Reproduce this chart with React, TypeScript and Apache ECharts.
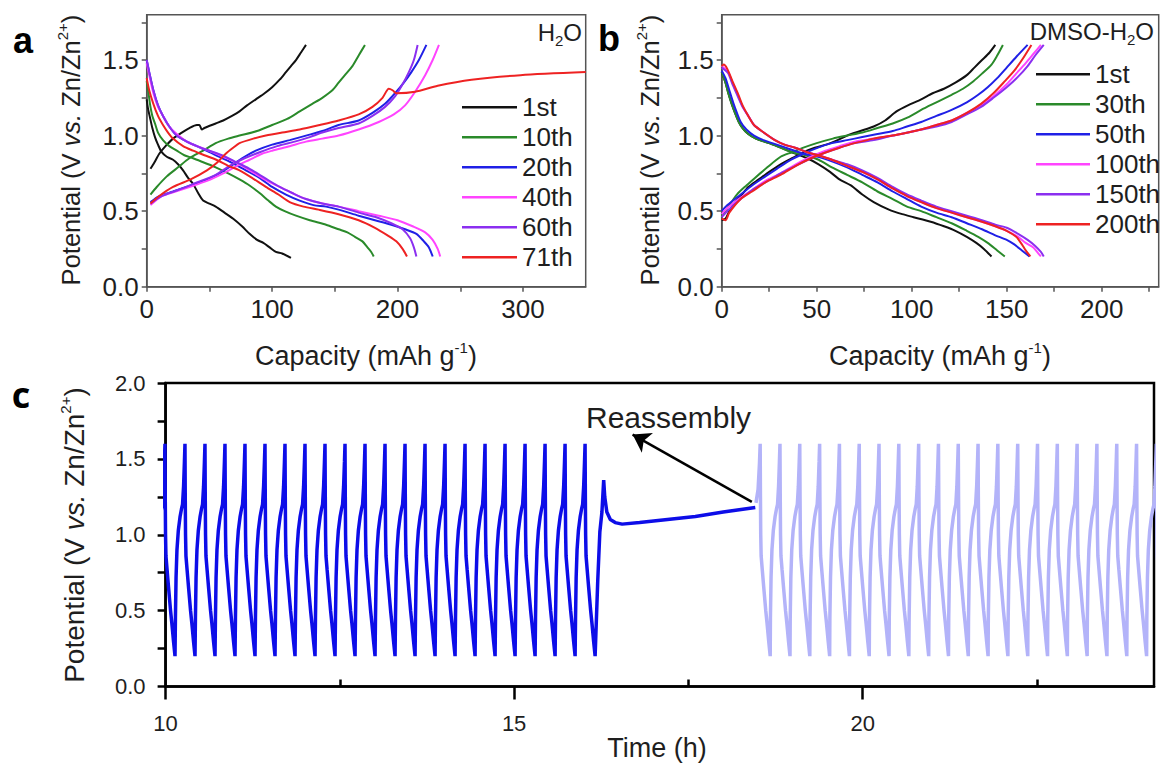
import React, { useEffect, useRef } from "react";
import * as echarts from "echarts";

const FONT = "'Liberation Sans', Arial, sans-serif";
const INK = "#1e1e1e";

// ---------- Panel a (H2O) ----------
const A_NAMES = ["1st", "10th", "20th", "40th", "60th", "71th"];
const A_COLORS = ["#111111", "#2a8a2a", "#2020e6", "#ff44ff", "#8b2ff0", "#ee2222"];
const A_CHARGE: number[][][] = [
  [[3,0.78],[6,0.82],[10,0.88],[15,0.93],[21,0.98],[28,1.02],[34,1.05],[40,1.07],[42,1.07],[44,1.04],[46,1.05],[55,1.08],[61,1.10],[68,1.13],[74,1.16],[80,1.20],[87,1.24],[94,1.28],[100,1.32],[106,1.37],[111,1.42],[115,1.46],[119,1.5],[123,1.55],[127,1.6]],
  [[3,0.61],[8,0.66],[16,0.73],[25,0.79],[34,0.85],[45,0.9],[55,0.95],[65,0.98],[74,1.0],[88,1.03],[100,1.07],[112,1.11],[122,1.16],[132,1.21],[140,1.25],[148,1.3],[153,1.35],[158,1.4],[164,1.46],[169,1.53],[174,1.6]],
  [[3,0.56],[10,0.6],[21,0.63],[35,0.67],[48,0.71],[58,0.75],[69,0.81],[78,0.86],[87,0.9],[100,0.94],[114,0.97],[127,1.0],[140,1.03],[153,1.07],[169,1.1],[180,1.15],[190,1.21],[198,1.28],[205,1.35],[211,1.42],[217,1.5],[223,1.6]],
  [[3,0.54],[12,0.6],[23,0.63],[34,0.66],[48,0.7],[61,0.75],[72,0.8],[82,0.84],[92,0.88],[100,0.9],[114,0.93],[127,0.96],[140,0.98],[153,1.0],[169,1.04],[185,1.09],[197,1.14],[206,1.2],[214,1.29],[222,1.4],[228,1.5],[233,1.6]],
  [[3,0.55],[12,0.6],[25,0.64],[40,0.69],[55,0.74],[66,0.8],[78,0.85],[90,0.89],[104,0.93],[118,0.96],[130,0.99],[140,1.02],[153,1.05],[169,1.08],[180,1.13],[190,1.19],[198,1.26],[204,1.34],[209,1.42],[213,1.5],[216,1.6]],
  [[3,0.55],[10,0.6],[21,0.66],[35,0.71],[48,0.77],[56,0.82],[63,0.88],[69,0.92],[74,0.95],[85,0.98],[95,1.0],[108,1.02],[122,1.04],[138,1.07],[153,1.1],[169,1.14],[180,1.19],[188,1.25],[193,1.31],[196,1.3],[199,1.28],[214,1.29],[232,1.33],[259,1.37],[298,1.4],[350,1.42]],
];
const A_DISCH: number[][][] = [
  [[0,1.24],[1,1.18],[2.6,1.12],[4.5,1.05],[6.6,0.99],[9,0.94],[12,0.89],[16,0.86],[21,0.84],[25,0.81],[29,0.77],[33,0.72],[37,0.68],[41,0.62],[45,0.57],[50,0.55],[55,0.53],[62,0.49],[69,0.45],[76,0.4],[82,0.35],[88,0.31],[93,0.29],[98,0.26],[103,0.23],[108,0.22],[115,0.19]],
  [[0,1.36],[1.5,1.28],[2.6,1.21],[4.5,1.13],[6.6,1.08],[9,1.02],[13,0.97],[18,0.93],[24,0.9],[30,0.87],[37,0.85],[46,0.82],[55,0.79],[65,0.75],[74,0.71],[82,0.67],[90,0.62],[97,0.57],[103,0.53],[110,0.5],[119,0.47],[130,0.44],[143,0.41],[153,0.38],[160,0.36],[166,0.33],[172,0.3],[176,0.26],[179,0.23],[181,0.2]],
  [[0,1.5],[2,1.42],[5.3,1.3],[9,1.2],[13,1.13],[18,1.06],[24,1.0],[32,0.96],[40,0.93],[50,0.89],[58,0.86],[68,0.82],[79,0.77],[90,0.72],[100,0.66],[111,0.61],[122,0.57],[133,0.54],[143,0.53],[153,0.51],[169,0.47],[182,0.44],[195,0.41],[206,0.38],[215,0.35],[221,0.3],[225,0.26],[228,0.2]],
  [[0,1.48],[2,1.4],[5.3,1.28],[9,1.19],[13,1.13],[18,1.06],[24,1.01],[32,0.96],[40,0.93],[50,0.9],[61,0.86],[72,0.82],[82,0.77],[94,0.71],[106,0.66],[116,0.62],[127,0.58],[140,0.55],[153,0.53],[169,0.5],[185,0.47],[200,0.44],[212,0.4],[222,0.36],[228,0.31],[232,0.25],[234,0.2]],
  [[0,1.5],[2,1.42],[5.3,1.3],[9,1.2],[13,1.13],[18,1.06],[24,1.0],[32,0.96],[40,0.93],[50,0.9],[60,0.87],[70,0.83],[82,0.78],[94,0.72],[106,0.66],[116,0.62],[127,0.58],[140,0.55],[153,0.53],[169,0.49],[183,0.46],[195,0.42],[204,0.38],[210,0.32],[213,0.26],[215,0.2]],
  [[0,1.38],[2,1.3],[5.3,1.21],[9,1.13],[13,1.07],[17,1.02],[21,0.98],[29,0.93],[37,0.9],[46,0.87],[55.5,0.84],[65,0.8],[74,0.77],[84,0.72],[95,0.66],[105,0.61],[114,0.56],[125,0.53],[137,0.51],[153,0.48],[169,0.44],[182,0.39],[192,0.34],[199,0.3],[204,0.25],[207.5,0.2]],
];

// ---------- Panel b (DMSO-H2O) ----------
const B_NAMES = ["1st", "30th", "50th", "100th", "150th", "200th"];
const B_COLORS = ["#111111", "#2a8a2a", "#2020e6", "#ff44ff", "#8b2ff0", "#ee2222"];
const B_CHARGE: number[][][] = [
  [[0,0.44],[2,0.45],[4,0.5],[7,0.56],[10,0.6],[14,0.66],[19.5,0.71],[25,0.76],[31,0.81],[37,0.85],[43,0.89],[49,0.92],[55,0.94],[61,0.97],[66,1.0],[73,1.03],[80,1.06],[86,1.1],[92,1.16],[98,1.2],[105,1.24],[111,1.28],[117,1.31],[123,1.35],[129,1.4],[133,1.45],[137,1.5],[141,1.55],[144,1.6]],
  [[0,0.47],[3,0.52],[8,0.61],[13,0.67],[17.5,0.72],[24,0.79],[31,0.86],[37,0.89],[43,0.92],[50,0.95],[58.5,0.98],[66,1.0],[74,1.02],[82,1.05],[90,1.08],[98,1.12],[105,1.17],[113,1.22],[121,1.27],[127,1.31],[132.5,1.36],[137,1.41],[142,1.47],[145,1.53],[148,1.6]],
  [[0,0.5],[3,0.54],[10,0.61],[16,0.67],[23,0.73],[29,0.78],[35,0.83],[43,0.88],[50.7,0.92],[58,0.95],[66,0.97],[74,0.99],[82,1.01],[90,1.03],[97.5,1.06],[105,1.09],[113,1.13],[121,1.17],[129,1.22],[135,1.27],[140,1.32],[145,1.38],[150,1.45],[155,1.52],[161,1.6]],
  [[0,0.48],[3,0.52],[10,0.59],[16,0.64],[23,0.7],[31,0.75],[39,0.81],[47,0.86],[54.6,0.9],[62,0.93],[70,0.96],[80,0.98],[90,1.0],[98,1.02],[105,1.04],[113,1.07],[121,1.1],[129,1.15],[136.5,1.2],[143,1.26],[150,1.34],[155,1.41],[160,1.48],[164,1.54],[168,1.6]],
  [[0,0.46],[3,0.5],[10,0.58],[16,0.64],[23,0.69],[31,0.75],[39,0.8],[47,0.85],[55,0.89],[62,0.92],[70,0.95],[80,0.97],[90,1.0],[98,1.02],[105,1.04],[113,1.06],[121,1.09],[129,1.14],[136.5,1.19],[143,1.25],[150,1.32],[156,1.39],[161,1.46],[165,1.53],[169.5,1.6]],
  [[0,0.45],[2,0.44],[4,0.49],[10,0.58],[16,0.63],[23,0.69],[31,0.74],[39,0.8],[47,0.85],[55,0.89],[62,0.92],[70,0.95],[80,0.98],[90,1.0],[98,1.02],[105,1.04],[113,1.07],[121,1.1],[129,1.15],[136.5,1.21],[143,1.28],[149,1.36],[154,1.43],[158,1.5],[163,1.6]],
];
const B_DISCH: number[][][] = [
  [[0,1.42],[2,1.35],[3.5,1.28],[5,1.22],[7,1.15],[9,1.09],[11,1.05],[14,1.01],[18,0.98],[25,0.95],[31,0.92],[37,0.89],[45,0.85],[51,0.81],[57,0.76],[62,0.71],[68,0.67],[74,0.61],[80,0.56],[88,0.51],[95,0.48],[101,0.46],[110,0.43],[117,0.4],[123,0.37],[129,0.33],[134,0.29],[138,0.25],[142,0.2]],
  [[0,1.42],[2,1.35],[3.5,1.28],[5,1.22],[7,1.15],[9,1.09],[11,1.05],[14,1.01],[18,0.98],[25,0.95],[31,0.92],[37,0.89],[44,0.87],[51,0.84],[58,0.79],[66,0.74],[74,0.69],[82,0.63],[90,0.58],[97.5,0.53],[105,0.5],[113,0.46],[121,0.42],[129,0.37],[135,0.33],[140,0.29],[145,0.24],[149,0.2]],
  [[0,1.43],[2,1.38],[4,1.3],[6,1.22],[8,1.15],[10,1.09],[13,1.04],[17,1.0],[22,0.97],[29,0.94],[36,0.91],[43,0.88],[50.7,0.86],[58,0.83],[66,0.79],[74,0.74],[82,0.69],[90,0.63],[97.5,0.58],[105,0.53],[113,0.49],[121,0.46],[129,0.42],[137,0.38],[144,0.34],[150,0.31],[154,0.28],[158,0.24],[162,0.2]],
  [[0,1.46],[2,1.44],[3.5,1.42],[6,1.34],[8.8,1.26],[11,1.19],[14,1.13],[17,1.07],[21,1.03],[28,0.97],[33,0.94],[38.6,0.92],[45,0.89],[50.7,0.87],[58,0.84],[66,0.8],[74,0.76],[82,0.71],[90,0.65],[97.5,0.6],[105,0.56],[113,0.52],[121,0.49],[129,0.46],[137,0.43],[144,0.4],[150,0.37],[156,0.33],[160,0.29],[164,0.26],[166,0.23],[168,0.2]],
  [[0,1.45],[2,1.43],[3.5,1.41],[6,1.33],[8.8,1.25],[11,1.19],[14,1.13],[17,1.07],[21,1.03],[28,0.97],[33,0.94],[38.6,0.92],[45,0.89],[50.7,0.87],[58,0.84],[66,0.81],[74,0.77],[82,0.72],[90,0.66],[97.5,0.61],[105,0.57],[113,0.53],[121,0.5],[129,0.47],[137,0.44],[144,0.41],[150,0.39],[156,0.35],[161,0.31],[165,0.27],[168,0.23],[169.5,0.2]],
  [[0,1.46],[1,1.47],[3,1.44],[6,1.35],[8.8,1.27],[11,1.2],[14,1.13],[17,1.07],[21,1.03],[28,0.97],[33,0.94],[38.6,0.92],[45,0.89],[50.7,0.87],[58,0.84],[66,0.8],[74,0.76],[82,0.71],[90,0.65],[97.5,0.6],[105,0.56],[113,0.52],[121,0.49],[129,0.46],[137,0.43],[144,0.4],[150,0.37],[155,0.33],[158,0.28],[160,0.24],[162.5,0.2]],
];

// ---------- Panel c (cycling vs time) ----------
// times (h) of the charge-end peaks
const C_DARK_PEAKS = [9.991,10.278,10.565,10.852,11.139,11.426,11.713,12.0,12.287,12.574,12.861,13.148,13.435,13.722,14.009,14.296,14.583,14.87,15.157,15.444,15.731,16.018];
const C_LIGHT_PEAKS = [18.53,18.814,19.098,19.383,19.667,19.951,20.235,20.519,20.804,21.088,21.372,21.656,21.94,22.225,22.509,22.793,23.077,23.361,23.646,23.93,24.214];
// one cycle's shape relative to its peak time
const C_CHARGE = [[-0.143,0.2],[-0.137,0.45],[-0.128,0.72],[-0.115,0.9],[-0.095,1.03],[-0.07,1.12],[-0.05,1.17],[-0.035,1.2],[-0.02,1.32],[-0.008,1.48],[0,1.6]];
const C_DISCH = [[0.004,1.25],[0.008,1.0],[0.014,0.86],[0.03,0.77],[0.05,0.66],[0.08,0.5],[0.1,0.41],[0.12,0.31],[0.144,0.2]];
const C_REST = [[16.162,0.2],[16.2,0.7],[16.23,1.02],[16.26,1.15],[16.285,1.36],[16.3,1.25],[16.33,1.15],[16.38,1.1],[16.45,1.08],[16.55,1.07],[16.8,1.08],[17.2,1.1],[17.6,1.12],[18.0,1.15],[18.46,1.18]];
const C_LIGHT_START = [[18.47,1.21],[18.5,1.3],[18.52,1.47]];
const C_ARROW = [[18.41,1.217],[16.7,1.66]];

function buildCycles(peaks: number[], skipFirstCharge: boolean): number[][] {
  const out: number[][] = [];
  peaks.forEach((p, i) => {
    if (!(skipFirstCharge && i === 0)) C_CHARGE.forEach(([dt, v]) => out.push([p + dt, v]));
    else out.push([p, 1.6]);
    C_DISCH.forEach(([dt, v]) => out.push([p + dt, v]));
  });
  return out;
}

const rng = (a: number, b: number, s: number) => {
  const r: number[] = [];
  for (let v = a; v <= b + 1e-9; v += s) r.push(Math.round(v * 1000) / 1000);
  return r;
};

function buildOption(): any {
  const supStyle = { fontSize: 15, lineHeight: 15, verticalAlign: "top", fontFamily: FONT, fill: INK };
  const subStyle = { fontSize: 15, lineHeight: 15, verticalAlign: "bottom", fontFamily: FONT, fill: INK };

  const panelAxes = (grid: number, max: number, tickStep: number, labelStep: number) => ({
    x: {
      gridIndex: grid, type: "value", min: 0, max,
      axisLine: { onZero: false, lineStyle: { color: "#555", width: 1.5 } },
      axisTick: { customValues: rng(0, max - 1, tickStep), length: 5, lineStyle: { color: "#555", width: 1.5 } },
      axisLabel: { customValues: rng(0, max - 1, labelStep), fontSize: 26, margin: 9, color: INK, fontFamily: FONT },
      splitLine: { show: false },
    },
    y: {
      gridIndex: grid, type: "value", min: 0, max: 1.8,
      axisLine: { onZero: false, lineStyle: { color: "#555", width: 1.5 } },
      axisTick: { customValues: rng(0, 1.75, 0.25), length: 5, lineStyle: { color: "#555", width: 1.5 } },
      axisLabel: { customValues: [0, 0.5, 1, 1.5], formatter: (v: number) => v.toFixed(1), fontSize: 26, margin: 8, color: INK, fontFamily: FONT },
      splitLine: { show: false },
    },
  });
  const pa = panelAxes(0, 350, 50, 100);
  const pb = panelAxes(1, 230, 25, 50);

  const series: any[] = [];
  const addPanel = (names: string[], colors: string[], ch: number[][][], dis: number[][][], idx: number) => {
    names.forEach((n, i) => {
      [ch[i], dis[i]].forEach((d) => {
        series.push({
          type: "line", name: n, xAxisIndex: idx, yAxisIndex: idx, data: d,
          symbol: "none", smooth: 0.25, silent: true,
          lineStyle: { color: colors[i], width: 2 }, itemStyle: { color: colors[i] },
        });
      });
    });
  };
  addPanel(A_NAMES, A_COLORS, A_CHARGE, A_DISCH, 0);
  addPanel(B_NAMES, B_COLORS, B_CHARGE, B_DISCH, 1);

  series.push({
    type: "line", name: "before", xAxisIndex: 2, yAxisIndex: 2,
    data: buildCycles(C_DARK_PEAKS, false).concat(C_REST),
    symbol: "none", silent: true, lineStyle: { color: "#0d0de8", width: 3.5 }, itemStyle: { color: "#0d0de8" },
    markLine: {
      silent: true, symbol: ["none", "arrow"], symbolSize: 17,
      lineStyle: { color: "#000", width: 2.5, type: "solid" }, label: { show: false },
      data: [[{ coord: C_ARROW[0] }, { coord: C_ARROW[1] }]],
    },
  });
  series.push({
    type: "line", name: "after", xAxisIndex: 2, yAxisIndex: 2,
    data: C_LIGHT_START.concat(buildCycles(C_LIGHT_PEAKS, true)),
    symbol: "none", silent: true, lineStyle: { color: "#b3b3f9", width: 3.5 }, itemStyle: { color: "#b3b3f9" },
  });

  const legendCommon = {
    orient: "vertical", icon: "rect", itemHeight: 2.5, itemGap: 0, selectedMode: false, padding: 0,
    textStyle: { fontSize: 26, lineHeight: 30, fontFamily: FONT, color: INK },
  };

  const yTitle = (x: number, y: number, size: number) => ({
    type: "text", x, y, rotation: Math.PI / 2, silent: true,
    style: {
      text: "Potential (V {i|vs.} Zn/Zn{sup|2+})", align: "center", verticalAlign: "middle",
      fontSize: size, lineHeight: 32, fontFamily: FONT, fill: INK,
      rich: { i: { fontStyle: "italic", fontSize: size, lineHeight: 32, fontFamily: FONT, fill: INK }, sup: supStyle },
    },
  });
  const xTitle = (x: number, y: number, txt: string, size: number) => ({
    type: "text", x, y, silent: true,
    style: {
      text: txt, align: "center", verticalAlign: "middle", fontSize: size, lineHeight: 32,
      fontFamily: FONT, fill: INK, rich: { sup: supStyle },
    },
  });

  return {
    animation: false,
    backgroundColor: "#ffffff",
    grid: [
      { left: 146.7, top: 14.7, width: 439, height: 272, show: true, borderColor: "#555", borderWidth: 1.5 },
      { left: 721.7, top: 14.7, width: 437, height: 272, show: true, borderColor: "#555", borderWidth: 1.5 },
      { left: 165.6, top: 383, width: 988.4, height: 303.5, show: true, borderColor: "#000", borderWidth: 2.5 },
    ],
    xAxis: [
      pa.x, pb.x,
      {
        gridIndex: 2, type: "value", min: 10, max: 24.18,
        axisLine: { onZero: false, lineStyle: { color: "#000", width: 2.5 } },
        axisTick: { customValues: [10, 15, 20], length: 13, lineStyle: { color: "#000", width: 2.5 } },
        axisLabel: { customValues: [10, 15, 20], fontSize: 22, margin: 26, color: INK, fontFamily: FONT },
        splitLine: { show: false },
      },
      {
        gridIndex: 2, type: "value", min: 10, max: 24.18,
        axisLine: { show: false },
        axisTick: { customValues: [12.5, 17.5, 22.5], length: 7, lineStyle: { color: "#000", width: 2.5 } },
        axisLabel: { show: false }, splitLine: { show: false },
      },
    ],
    yAxis: [
      pa.y, pb.y,
      {
        gridIndex: 2, type: "value", min: 0, max: 2,
        axisLine: { onZero: false, lineStyle: { color: "#000", width: 2.5 } },
        axisTick: { customValues: rng(0, 2, 0.25), length: 8, lineStyle: { color: "#000", width: 2.5 } },
        axisLabel: { customValues: [0, 0.5, 1, 1.5, 2], formatter: (v: number) => v.toFixed(1), fontSize: 22, margin: 20, color: INK, fontFamily: FONT },
        splitLine: { show: false },
      },
    ],
    legend: [
      { ...legendCommon, data: A_NAMES, left: 462, top: 92.3, itemWidth: 55 },
      { ...legendCommon, data: B_NAMES, left: 1036, top: 59.3, itemWidth: 54 },
    ],
    series,
    graphic: [
      { type: "text", x: 23, y: 40, silent: true, style: { text: "a", fontSize: 36, fontWeight: "bold", fontFamily: FONT, fill: "#000", align: "center", verticalAlign: "middle" } },
      { type: "text", x: 609, y: 38, silent: true, style: { text: "b", fontSize: 36, fontWeight: "bold", fontFamily: FONT, fill: "#000", align: "center", verticalAlign: "middle" } },
      { type: "text", x: 21, y: 394, silent: true, style: { text: "c", fontSize: 36, fontWeight: "bold", fontFamily: "'Open Sans', sans-serif", fill: "#000", align: "center", verticalAlign: "middle" } },
      yTitle(71, 150, 25.5),
      yTitle(650, 150, 25.5),
      yTitle(74, 535, 28),
      xTitle(366, 356, "Capacity (mAh g{sup|-1})", 27),
      xTitle(940, 356, "Capacity (mAh g{sup|-1})", 27),
      xTitle(657, 748, "Time (h)", 27),
      {
        type: "text", x: 582, y: 32, silent: true,
        style: { text: "H{sub|2}O", align: "right", verticalAlign: "middle", fontSize: 24, lineHeight: 32, fontFamily: FONT, fill: INK, rich: { sub: subStyle } },
      },
      {
        type: "text", x: 1154, y: 31, silent: true,
        style: { text: "DMSO-H{sub|2}O", align: "right", verticalAlign: "middle", fontSize: 24, lineHeight: 32, fontFamily: FONT, fill: INK, rich: { sub: subStyle } },
      },
      {
        type: "text", x: 586, y: 417, silent: true,
        style: { text: "Reassembly", align: "left", verticalAlign: "middle", fontSize: 30, fontFamily: FONT, fill: INK },
      },
    ],
  };
}

export default function App() {
  const ref = useRef<HTMLDivElement>(null);
  useEffect(() => {
    if (!ref.current) return;
    const chart = echarts.init(ref.current, undefined, { renderer: "svg" });
    chart.setOption(buildOption());
    return () => chart.dispose();
  }, []);
  return (
    <div
      ref={ref}
      style={{ position: "fixed", left: 0, top: 0, width: 1163, height: 767, background: "#fff" }}
    />
  );
}
